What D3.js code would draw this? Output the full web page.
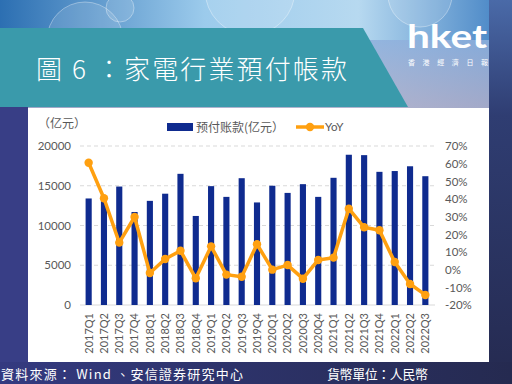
<!DOCTYPE html>
<html>
<head>
<meta charset="UTF-8">
<title>圖 6</title>
<style>
body, html {
	padding: 0;
	margin: 0;
	overflow: hidden;
	background: #2a2f5e;
}
svg text {
	font-family: Lato, 'Noto Sans CJK SC', sans-serif;
}
</style>
</head>
<body>
<div id="chart"></div>
<script src="https://cdn.jsdelivr.net/npm/d3@7"></script>
<script>
var quarters = ["2017Q1","2017Q2","2017Q3","2017Q4","2018Q1","2018Q2","2018Q3","2018Q4",
	"2019Q1","2019Q2","2019Q3","2019Q4","2020Q1","2020Q2","2020Q3","2020Q4",
	"2021Q1","2021Q2","2021Q3","2021Q4","2022Q1","2022Q2","2022Q3"];
var prepaid = [13400,13300,14900,11700,13100,14000,16500,11200,14950,13600,15950,12900,
	15000,14100,15200,13600,16000,18900,18850,16750,16850,17450,16200];
var yoy = [60.5,40.4,15.3,29.8,-1.9,6.0,10.7,-4.9,13.2,-2.8,-4.0,14.4,
	0.0,2.6,-5.1,5.5,6.8,34.5,24.0,22.3,4.3,-8.1,-14.3];
var leftTicks = [0,5000,10000,15000,20000];
var rightTicks = [-20,-10,0,10,20,30,40,50,60,70];

var width = 512, height = 384;

var svg = d3.select("#chart").append("svg")
	.attr("width", width).attr("height", height);

var defs = svg.append("defs");

var sky = defs.append("linearGradient").attr("id", "sky").attr("x1", 0).attr("y1", 0).attr("x2", 1).attr("y2", 0);
sky.append("stop").attr("offset", "0%").attr("stop-color", "#2c6fb2");
sky.append("stop").attr("offset", "40%").attr("stop-color", "#9ccbec");
sky.append("stop").attr("offset", "70%").attr("stop-color", "#b7d9f0");
sky.append("stop").attr("offset", "100%").attr("stop-color", "#3f7fc2");

var haze = defs.append("linearGradient").attr("id", "haze").attr("x1", 0).attr("y1", 0).attr("x2", 0).attr("y2", 1);
haze.append("stop").attr("offset", "0%").attr("stop-color", "#8fb0dc");
haze.append("stop").attr("offset", "100%").attr("stop-color", "#b2aec8");

var side = defs.append("linearGradient").attr("id", "side").attr("x1", 0).attr("y1", 0).attr("x2", 0).attr("y2", 1);
side.append("stop").attr("offset", "0%").attr("stop-color", "#4a6aa8");
side.append("stop").attr("offset", "30%").attr("stop-color", "#2f3d72");
side.append("stop").attr("offset", "100%").attr("stop-color", "#252a50");

var foot = defs.append("linearGradient").attr("id", "foot").attr("x1", 0).attr("y1", 0).attr("x2", 1).attr("y2", 0);
foot.append("stop").attr("offset", "0%").attr("stop-color", "#343a80");
foot.append("stop").attr("offset", "100%").attr("stop-color", "#252a50");

// background
svg.append("rect").attr("width", width).attr("height", height).attr("fill", "url(#sky)");
svg.append("rect").attr("x", 0).attr("y", 40).attr("width", width).attr("height", 70).attr("fill", "url(#haze)").attr("opacity", 0.85);

var bubbles = [[85,40,38],[250,-10,45],[420,-5,32],[120,8,14]];
svg.append("g").selectAll("circle").data(bubbles).enter().append("circle")
	.attr("cx", function(d) {return d[0]}).attr("cy", function(d) {return d[1]}).attr("r", function(d) {return d[2]})
	.attr("fill", "#ffffff").attr("fill-opacity", 0.12).attr("stroke", "#ffffff").attr("stroke-opacity", 0.35);

svg.append("rect").attr("x", 489).attr("y", 0).attr("width", 23).attr("height", height).attr("fill", "url(#side)");
svg.append("rect").attr("x", 0).attr("y", 107).attr("width", 28).attr("height", 260).attr("fill", "#383e86");
svg.append("rect").attr("x", 0).attr("y", 362).attr("width", width).attr("height", 22).attr("fill", "url(#foot)");

// title banner
svg.append("path").attr("d", "M0,28 L363,28 L408,107 L0,107 Z").attr("fill", "#3a9aab");
svg.append("text").attr("x", 36).attr("y", 79)
	.attr("fill", "#ffffff").style("font-size", "26px").style("font-weight", "300")
	.style("font-family", "'Noto Sans CJK TC', sans-serif")
	.attr("textLength", 311).attr("lengthAdjust", "spacing")
	.text("圖 6 ：家電行業預付帳款");

// logo
svg.append("text").attr("x", 407).attr("y", 48)
	.attr("fill", "#ffffff").style("font-size", "33px").style("font-weight", "bold")
	.attr("textLength", 80).attr("lengthAdjust", "spacingAndGlyphs")
	.text("hket");
svg.append("text").attr("x", 408).attr("y", 65)
	.attr("fill", "#ffffff").style("font-size", "7px").style("font-family", "'Noto Sans CJK TC', sans-serif")
	.attr("textLength", 80).attr("lengthAdjust", "spacing")
	.text("香港經濟日報");

// chart panel
svg.append("rect").attr("x", 28).attr("y", 108).attr("width", 461).attr("height", 254).attr("fill", "#ffffff");

var x = d3.scaleBand().domain(quarters).range([81, 433]).paddingInner(0.6).paddingOuter(0.3);
var y = d3.scaleLinear().domain([0, 20000]).range([305, 146]);
var y2 = d3.scaleLinear().domain([-20, 70]).range([305, 146]);

var grid = svg.append("g");
grid.selectAll("line").data(leftTicks.filter(function(d) {return d > 0})).enter().append("line")
	.attr("x1", 80).attr("x2", 435)
	.attr("y1", function(d) {return y(d)}).attr("y2", function(d) {return y(d)})
	.attr("stroke", "#d9d9d9").attr("stroke-width", 1).attr("stroke-dasharray", "4,3");
svg.append("line").attr("x1", 80).attr("x2", 435).attr("y1", y(0)).attr("y2", y(0))
	.attr("stroke", "#d9d9d9").attr("stroke-width", 1);

var leftAxis = svg.append("g").attr("transform", "translate(71,0)")
	.call(d3.axisLeft(y).tickValues(leftTicks).tickSize(0).tickPadding(0).tickFormat(d3.format("d")));
leftAxis.select(".domain").remove();
leftAxis.selectAll("text").style("font-size", "11.5px").attr("fill", "#595959");

var rightAxis = svg.append("g").attr("transform", "translate(445,0)")
	.call(d3.axisRight(y2).tickValues(rightTicks).tickSize(0).tickPadding(0).tickFormat(function(d) {return d + "%"}));
rightAxis.select(".domain").remove();
rightAxis.selectAll("text").style("font-size", "11.5px").attr("fill", "#595959");

var bottomAxis = svg.append("g").attr("transform", "translate(0," + 311 + ")")
	.call(d3.axisBottom(x).tickSize(0).tickPadding(0));
bottomAxis.select(".domain").remove();
bottomAxis.selectAll("text")
	.attr("transform", "rotate(-90)").attr("text-anchor", "end")
	.attr("x", -2).attr("y", 0).attr("dy", "0.35em")
	.style("font-size", "11px").attr("fill", "#595959");

// bars
svg.append("g").selectAll("rect").data(prepaid).enter().append("rect")
	.attr("x", function(d, i) {return x(quarters[i])})
	.attr("width", x.bandwidth())
	.attr("y", function(d) {return y(d)})
	.attr("height", function(d) {return y(0) - y(d)})
	.attr("fill", "#0f2b8f");

// yoy line
var line = d3.line().x(function(d, i) {return x(quarters[i]) + x.bandwidth()/2}).y(function(d) {return y2(d)});
svg.append("path").datum(yoy).attr("d", line)
	.attr("fill", "none").attr("stroke", "#ffa010").attr("stroke-width", 3.5).attr("stroke-linejoin", "round");
svg.append("g").selectAll("circle").data(yoy).enter().append("circle")
	.attr("cx", function(d, i) {return x(quarters[i]) + x.bandwidth()/2})
	.attr("cy", function(d) {return y2(d)})
	.attr("r", 4.2).attr("fill", "#ffa010");

// unit label
svg.append("text").attr("x", 38).attr("y", 128)
	.attr("fill", "#595959").style("font-size", "12px").style("font-family", "'Noto Sans CJK SC', sans-serif")
	.text("（亿元）");

// legend
svg.append("rect").attr("x", 167).attr("y", 123).attr("width", 26).attr("height", 8).attr("fill", "#0f2b8f");
svg.append("text").attr("x", 196).attr("y", 132)
	.attr("fill", "#595959").style("font-size", "12px").style("font-family", "'Noto Sans CJK SC', sans-serif")
	.text("预付账款(亿元）");
svg.append("line").attr("x1", 296).attr("x2", 324).attr("y1", 127).attr("y2", 127)
	.attr("stroke", "#ffa010").attr("stroke-width", 3.5);
svg.append("circle").attr("cx", 310).attr("cy", 127).attr("r", 4.2).attr("fill", "#ffa010");
svg.append("text").attr("x", 325).attr("y", 131)
	.attr("fill", "#595959").style("font-size", "11.5px")
	.text("YoY");

// footer
svg.append("text").attr("x", 1).attr("y", 379)
	.attr("fill", "#ffffff").style("font-size", "13px").style("font-family", "'Noto Sans CJK TC', sans-serif")
	.attr("textLength", 242).attr("lengthAdjust", "spacing")
	.text("資料來源： Wind 、安信證券研究中心");
svg.append("text").attr("x", 327).attr("y", 379)
	.attr("fill", "#ffffff").style("font-size", "13px").style("font-family", "'Noto Sans CJK TC', sans-serif")
	.attr("textLength", 101).attr("lengthAdjust", "spacing")
	.text("貨幣單位：人民幣");
</script>
</body>
</html>
